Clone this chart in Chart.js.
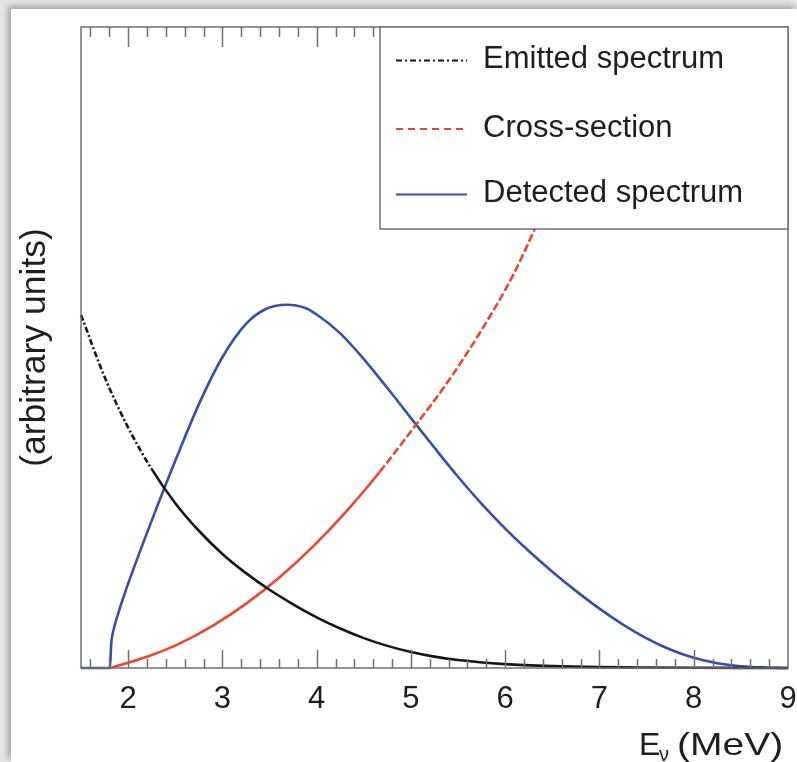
<!DOCTYPE html>
<html lang="en">
<head>
  <meta charset="UTF-8">
  <meta name="viewport" content="width=device-width, initial-scale=1.0">
  <script src="https://cdn.jsdelivr.net/npm/chart.js"></script>
  <style>
html, body {
  margin: 0;
  padding: 0;
}

body {
  width: 797px;
  height: 762px;
  position: relative;
  overflow: hidden;
  background: #e3e3e3;
}

.sheet {
  position: absolute;
  left: 11px;
  top: 9px;
  right: 0;
  bottom: 0;
  background: #fff;
  box-shadow: -3px -3px 6px rgba(0, 0, 0, 0.28);
}

#spectra {
  position: absolute;
  left: 0;
  top: 0;
}
  </style>
</head>
<body>
  <div class="sheet"></div>
  <canvas id="spectra" width="797" height="762"></canvas>

  <script>
    // neutrino energy ticks (MeV)
    const xTicks = [2, 3, 4, 5, 6, 7, 8, 9];
    const seriesNames = ['Emitted spectrum', 'Cross-section', 'Detected spectrum'];

    // emitted antineutrino spectrum
    const emittedE = [1.5, 1.75, 2.0, 2.25, 2.5, 2.75, 3.0, 3.25, 3.5, 3.75, 4.0, 4.25, 4.5, 4.75, 5.0, 5.25, 5.5, 6.0, 6.5, 7.0, 7.5, 8.0, 8.5, 9.0];
    const emittedY = [97.5, 80.4, 66.4, 54.9, 45.5, 37.9, 31.5, 26.2, 21.6, 17.6, 14.0, 10.9, 8.25, 6.11, 4.43, 3.14, 2.19, 1.07, 0.52, 0.25, 0.13, 0.06, 0.03, 0.015];

    // inverse beta decay cross-section, threshold at 1.8 MeV
    const crossE = [1.807, 2.2, 2.55, 2.9, 3.26, 3.61, 3.96, 4.32, 4.67, 5.06, 5.38, 5.73, 6.08, 6.31, 6.6, 7.0];
    const crossY = [0, 3.1, 6.8, 11.7, 17.9, 25.1, 33.5, 43.4, 54.2, 67.4, 78.6, 92.5, 108.3, 121.0, 138, 163];

    // detected spectrum = emitted x cross-section
    const detectedE = [1.5, 1.807, 1.82, 1.85, 1.9, 1.95, 2.0, 2.25, 2.5, 2.75, 3.0, 3.25, 3.45, 3.68, 3.88, 4.0, 4.25, 4.5, 4.75, 5.0, 5.25, 5.5, 5.75, 6.0, 6.25, 6.5, 6.75, 7.0, 7.25, 7.5, 7.75, 8.0, 8.25, 8.5, 8.75, 9.0];
    const detectedY = [0, 0, 6.5, 11.0, 15.5, 19.5, 23.3, 40.7, 57.2, 72.8, 85.8, 95.0, 99.0, 100.3, 99.4, 97.6, 92.4, 85.3, 77.3, 69.0, 60.8, 52.8, 45.3, 38.5, 32.3, 26.6, 21.3, 16.4, 12.0, 8.2, 5.1, 2.8, 1.3, 0.5, 0.15, 0];

    const fontFamily = '"Liberation Sans", Arial, Helvetica, sans-serif';
    const textColor = '#1e1e1e';
    const axisGray = '#707070';
    const lineColors = ['#161616', '#ee4530', '#3550a6'];
    const legendDashes = [[6, 3, 2, 3], [7, 5], []];
    const curveDashes = [[6, 2.5, 2, 2.5], [8, 3], []];

    function points(xs, ys) {
      return xs.map((x, i) => ({ x: x, y: ys[i] }));
    }

    // frame, inward ticks, legend box and x title
    const decorations = {
      id: 'decorations',
      afterDatasetsDraw(chart) {
        const ctx = chart.ctx;
        const a = chart.chartArea;
        const x = chart.scales.x;

        ctx.save();
        ctx.strokeStyle = axisGray;
        ctx.lineWidth = 1.5;

        ctx.beginPath();
        for (let k = 8; k < 45; k++) {
          const px = Math.round(x.getPixelForValue(k / 5)) + 0.5;
          const major = k % 5 === 0;
          ctx.moveTo(px, a.bottom);
          ctx.lineTo(px, a.bottom - (major ? 18 : 9));
          ctx.moveTo(px, a.top);
          ctx.lineTo(px, a.top + (major ? 20 : 10));
        }
        ctx.stroke();
        ctx.strokeRect(a.left, a.top, a.right - a.left, a.bottom - a.top);

        // legend
        const left = a.right - 408;
        const top = a.top;
        ctx.fillStyle = '#fff';
        ctx.fillRect(left, top, 408, 202);
        ctx.strokeRect(left, top, 408, 202);

        const rows = [32.5, 101, 166.5];
        ctx.font = '31px ' + fontFamily;
        ctx.textBaseline = 'middle';
        ctx.textAlign = 'left';
        seriesNames.forEach((name, i) => {
          const y = top + rows[i];
          ctx.beginPath();
          ctx.strokeStyle = lineColors[i];
          ctx.lineWidth = 2;
          ctx.setLineDash(legendDashes[i]);
          ctx.moveTo(left + 16, y + 1);
          ctx.lineTo(left + 87, y + 1);
          ctx.stroke();
          ctx.setLineDash([]);
          ctx.fillStyle = textColor;
          ctx.fillText(name, left + 103, y);
        });

        // E_nu (MeV)
        ctx.fillStyle = textColor;
        ctx.textBaseline = 'alphabetic';
        ctx.font = '32px ' + fontFamily;
        ctx.fillText('E', 639, 755);
        ctx.font = '20px ' + fontFamily;
        ctx.fillText('\u03bd', 659, 761);
        ctx.font = '32px ' + fontFamily;
        ctx.translate(677, 755);
        ctx.scale(1.22, 1);
        ctx.fillText('(MeV)', 0, 0);
        ctx.restore();
      }
    };

    new Chart(document.getElementById('spectra'), {
      type: 'line',
      data: {
        datasets: [{
          label: seriesNames[0],
          data: points(emittedE, emittedY),
          borderColor: lineColors[0],
          segment: { borderDash: c => c.p1.parsed.x <= 2.3 ? curveDashes[0] : undefined },
          clip: 4
        }, {
          label: seriesNames[1],
          data: points(crossE, crossY),
          borderColor: lineColors[1],
          segment: { borderDash: c => c.p0.parsed.x >= 4.6 ? curveDashes[1] : undefined },
          clip: 4
        }, {
          label: seriesNames[2],
          data: points(detectedE, detectedY),
          borderColor: lineColors[2],
          clip: 4
        }]
      },
      options: {
        responsive: false,
        animation: false,
        layout: { padding: { top: 27, right: 9, bottom: 0, left: 0 } },
        elements: {
          line: { borderWidth: 2.6, cubicInterpolationMode: 'monotone', fill: false },
          point: { radius: 0, hoverRadius: 0 }
        },
        plugins: {
          legend: { display: false },
          tooltip: { enabled: false }
        },
        scales: {
          x: {
            type: 'linear',
            min: 1.5,
            max: 9,
            afterBuildTicks: s => { s.ticks = xTicks.map(v => ({ value: v })); },
            afterFit: s => {
              s.height = 94;
              s.paddingLeft = 0;
              s.paddingRight = 0;
            },
            ticks: {
              color: textColor,
              font: { family: fontFamily, size: 31 },
              padding: 13,
              maxRotation: 0,
              autoSkip: false
            },
            grid: { display: false, drawTicks: false },
            border: { display: false }
          },
          y: {
            min: 0,
            max: 177,
            afterFit: s => { s.width = 81; },
            ticks: { display: false },
            grid: { display: false, drawTicks: false },
            border: { display: false },
            title: {
              display: true,
              text: '(arbitrary units)',
              color: textColor,
              font: { family: fontFamily, size: 35.5 },
              padding: { top: 14, bottom: 0 }
            }
          }
        }
      },
      plugins: [decorations]
    });
  </script>
</body>
</html>
